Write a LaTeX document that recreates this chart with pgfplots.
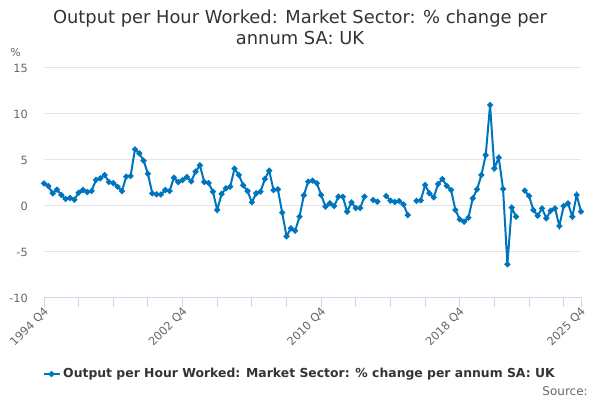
\documentclass[border=0pt]{standalone}
\usepackage{pgfplots}
\usepackage{pgfplotstable}
\pgfplotsset{compat=1.18}
\usepackage{fontspec}
\setmainfont{DejaVu Sans}
\definecolor{serie}{RGB}{0,117,191}
\definecolor{gridc}{RGB}{230,230,230}
\definecolor{axisc}{RGB}{204,214,235}
\definecolor{labc}{RGB}{102,102,102}
\definecolor{titc}{RGB}{51,51,51}
\pgfplotstableread{
i v
0 2.36
1 2.06
2 1.27
3 1.67
4 1.09
5 0.65
6 0.76
7 0.58
8 1.34
9 1.63
10 1.41
11 1.52
12 2.72
13 2.90
14 3.26
15 2.50
16 2.39
17 1.99
18 1.52
19 3.08
20 3.15
21 6.05
22 5.62
23 4.82
24 3.40
25 1.27
26 1.16
27 1.14
28 1.63
29 1.52
30 2.97
31 2.50
32 2.72
33 3.04
34 2.57
35 3.62
36 4.31
37 2.50
38 2.39
39 1.45
40 -0.54
41 1.20
42 1.81
43 1.99
44 3.95
45 3.26
46 2.14
47 1.52
48 0.29
49 1.27
50 1.45
51 2.83
52 3.73
53 1.63
54 1.70
55 -0.83
56 -3.40
57 -2.54
58 -2.80
59 -1.27
60 1.05
61 2.54
62 2.65
63 2.36
64 1.09
65 -0.18
66 0.18
67 -0.11
68 0.90
69 0.90
70 -0.72
71 0.29
72 -0.33
73 -0.33
74 0.90
75 nan
76 0.54
77 0.36
78 nan
79 0.98
80 0.47
81 0.33
82 0.43
83 0.07
84 -1.09
85 nan
86 0.45
87 0.51
88 2.17
89 1.27
90 0.83
91 2.28
92 2.83
93 2.07
94 1.63
95 -0.54
96 -1.56
97 -1.81
98 -1.38
99 0.72
100 1.70
101 3.26
102 5.43
103 10.87
104 3.98
105 5.15
106 1.74
107 -6.45
108 -0.29
109 -1.27
110 nan
111 1.56
112 0.98
113 -0.54
114 -1.16
115 -0.36
116 -1.45
117 -0.62
118 -0.36
119 -2.28
120 -0.11
121 0.18
122 -1.27
123 1.09
124 -0.72
}\datatable
\begin{document}
\begin{tikzpicture}
\useasboundingbox (0,0) rectangle (450pt,300pt);
\node[anchor=base, font=\fontsize{13.4pt}{15pt}\selectfont, text=titc, inner sep=0pt] at (225pt,282.5pt) {Output per Hour Worked: Market Sector: \% change per};
\node[anchor=base, font=\fontsize{13.4pt}{15pt}\selectfont, text=titc, inner sep=0pt] at (225pt,266.75pt) {annum SA: UK};
\node[anchor=base west, font=\fontsize{8.25pt}{10pt}\selectfont, text=labc, inner sep=0pt] at (7.5pt,257.25pt) {\%};
\node[anchor=base east, font=\fontsize{9pt}{11pt}\selectfont, text=labc, inner sep=0pt] at (441pt,3.75pt) {Source:};
\begin{axis}[
  at={(33pt,77.25pt)}, anchor=south west,
  scale only axis, width=402.75pt, height=172.5pt,
  xmin=0, xmax=124, ymin=-10, ymax=15,
  clip=false,
  axis x line*=bottom, axis y line*=left,
  y axis line style={draw=none},
  x axis line style={draw=axisc, line width=0.75pt},
  ytick={-10,-5,0,5,10,15},
  ytick style={draw=none},
  ymajorgrids, grid style={gridc, line width=0.75pt},
  xtick={0,32,64,96,124},
  xticklabels={1994 Q4,2002 Q4,2010 Q4,2018 Q4,2025 Q4},
  minor xtick={8,16,24,40,48,56,72,80,88,104,112,120},
  xtick style={draw=axisc, line width=0.75pt},
  tick align=outside, major tick length=7.5pt, minor tick length=7.5pt,
  /pgf/number format/assume math mode=true,
  yticklabel style={font=\fontsize{8.5pt}{10pt}\selectfont, text=labc, anchor=east, inner sep=0pt, xshift=-4.5pt, yshift=-1pt},
  xticklabel style={font=\fontsize{8.5pt}{10pt}\selectfont, text=labc, rotate=45, anchor=east, inner sep=0pt, yshift=-3pt},
  legend style={at={(0.4767,-0.335)}, anchor=center, draw=none, fill=none, font=\fontsize{9.3pt}{11pt}\selectfont\bfseries, text=titc, inner sep=0pt},
  legend image code/.code={\draw[mark repeat=2,mark phase=2] plot coordinates {(0pt,0pt)(6pt,0pt)(12pt,0pt)};},
  unbounded coords=jump,
]
\addplot[serie, line width=1.5pt, mark=*, mark size=1.4pt, mark options={solid}] table[x=i, y=v] {\datatable};
\addlegendentry{Output per Hour Worked: Market Sector: \% change per annum SA: UK}
\end{axis}
\end{tikzpicture}
\end{document}
